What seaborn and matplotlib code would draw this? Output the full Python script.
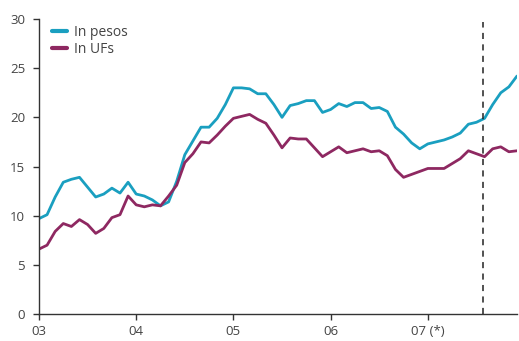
import numpy as np
import pandas as pd
import matplotlib
matplotlib.use("Agg")
import matplotlib.pyplot as plt
import seaborn as sns

# Monthly data, Jan 2003 .. Dec 2007 (month index 0..59)
pesos = [9.7, 10.1, 11.9, 13.4, 13.7, 13.9, 12.9, 11.9, 12.2, 12.8, 12.3, 13.4,
         12.2, 12.0, 11.6, 11.0, 11.4, 13.5, 16.2, 17.6, 19.0, 19.0, 19.9, 21.3,
         23.0, 23.0, 22.9, 22.4, 22.4, 21.3, 20.0, 21.2, 21.4, 21.7, 21.7, 20.5,
         20.8, 21.4, 21.1, 21.5, 21.5, 20.9, 21.0, 20.6, 19.0, 18.3, 17.4, 16.8,
         17.3, 17.5, 17.7, 18.0, 18.4, 19.3, 19.5, 19.9, 21.3, 22.5, 23.1, 24.2]
ufs = [6.6, 7.0, 8.4, 9.2, 8.9, 9.6, 9.1, 8.2, 8.7, 9.8, 10.1, 12.0,
       11.1, 10.9, 11.1, 11.0, 12.0, 13.1, 15.4, 16.3, 17.5, 17.4, 18.2, 19.1,
       19.9, 20.1, 20.3, 19.8, 19.4, 18.2, 16.9, 17.9, 17.8, 17.8, 16.9, 16.0,
       16.5, 17.0, 16.4, 16.6, 16.8, 16.5, 16.6, 16.1, 14.7, 13.9, 14.2, 14.5,
       14.8, 14.8, 14.8, 15.3, 15.8, 16.6, 16.3, 16.0, 16.8, 17.0, 16.5, 16.6]
series_names = ["In pesos", "In UFs"]
colors = ["#1A9FC0", "#8E2861"]
x_tick_pos = [0, 12, 24, 36, 48]
x_tick_labels = ["03", "04", "05", "06", "07 (*)"]
y_ticks = [0, 5, 10, 15, 20, 25, 30]
forecast_start = 54.8

months = np.arange(len(pesos))
df = pd.DataFrame({
    "month": np.concatenate([months, months]),
    "value": pesos + ufs,
    "series": [series_names[0]] * len(pesos) + [series_names[1]] * len(ufs),
})

sns.set_style("ticks")
plt.rcParams["font.family"] = ["Open Sans", "DejaVu Sans"]

fig = plt.figure(figsize=(5.19, 3.41), dpi=100)
ax = fig.add_axes([0.0751, 0.0792, 0.921, 0.865])

sns.lineplot(data=df, x="month", y="value", hue="series", palette=colors,
             linewidth=2.0, ax=ax, legend=True)

ax.plot([forecast_start, forecast_start], [0, 29.7], color="#222222",
        linewidth=1.1, linestyle=(0, (4, 3.5)))

ax.set_xlim(0, 59)
ax.set_ylim(0, 30)
ax.set_xticks(x_tick_pos)
ax.set_xticklabels(x_tick_labels)
ax.set_yticks(y_ticks)
ax.set_xlabel("")
ax.set_ylabel("")
for side in ["top", "right"]:
    ax.spines[side].set_visible(False)
for side in ["left", "bottom"]:
    ax.spines[side].set_color("#333333")
    ax.spines[side].set_linewidth(1.0)
ax.tick_params(axis="both", colors="#333333", labelcolor="#444444",
               labelsize=9.5, length=4, width=1.0, direction="out")
ax.tick_params(axis="x", pad=4)
ax.tick_params(axis="y", pad=6)

leg = ax.legend(loc="upper left", frameon=False, fontsize=10,
                handlelength=1.1, handletextpad=0.5, labelspacing=0.15,
                borderaxespad=0.0, bbox_to_anchor=(0.016, 1.0))
for line in leg.get_lines():
    line.set_linewidth(3.0)
for t in leg.get_texts():
    t.set_color("#444444")

fig.savefig("out.png", dpi=100)
